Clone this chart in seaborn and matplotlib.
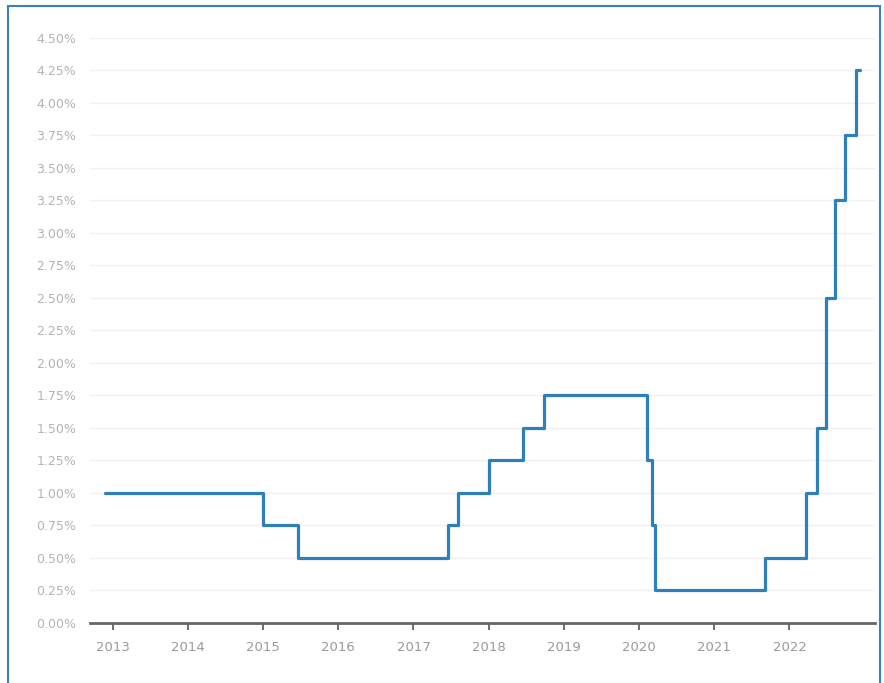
import matplotlib
matplotlib.use("Agg")
import matplotlib.pyplot as plt
import matplotlib.patches as mpatches
import seaborn as sns
import pandas as pd

# policy rate steps (decimal year of change, rate in %)
change_years = [2012.90, 2015.00, 2015.47, 2017.46, 2017.59, 2018.00, 2018.46,
                2018.74, 2020.11, 2020.17, 2020.21, 2021.67, 2022.22, 2022.37,
                2022.49, 2022.61, 2022.745, 2022.89, 2022.94]
rates = [1.00, 0.75, 0.50, 0.75, 1.00, 1.25, 1.50,
         1.75, 1.25, 0.75, 0.25, 0.50, 1.00, 1.50,
         2.50, 3.25, 3.75, 4.25, 4.25]

year_ticks = list(range(2013, 2023))
year_labels = [str(y) for y in year_ticks]
rate_ticks = [i * 0.25 for i in range(19)]
rate_labels = [f"{r:.2f}%" for r in rate_ticks]

df = pd.DataFrame({"annee": change_years, "taux": rates})

sns.set_theme(style="white")
plt.rcParams['font.family'] = ['DejaVu Sans']

fig = plt.figure(figsize=(8.84, 6.83), dpi=100)
ax = fig.add_axes([0.102, 0.0883, 0.888, 0.8565])

sns.lineplot(data=df, x="annee", y="taux", drawstyle="steps-post",
             color="#2d80bc", linewidth=2.3, ax=ax, sort=False,
             estimator=None)

ax.set_xlim(2012.70, 2023.14)
ax.set_ylim(0, 4.5)
ax.set_xticks(year_ticks)
ax.set_xticklabels(year_labels)
ax.set_yticks(rate_ticks)
ax.set_yticklabels(rate_labels)
ax.set_xlabel("")
ax.set_ylabel("")

ax.grid(axis="y", color="#f0f0f0", linewidth=1.0)
ax.set_axisbelow(True)
for s in ["top", "right", "left"]:
    ax.spines[s].set_visible(False)
ax.spines["bottom"].set_color("#666666")
ax.spines["bottom"].set_linewidth(2.0)

ax.tick_params(axis="x", length=5, width=1.2, color="#555555", direction="out",
               labelsize=9.5, labelcolor="#9a9a9a", pad=8, bottom=True)
ax.tick_params(axis="y", length=0, labelsize=9, labelcolor="#b4b4b4", pad=10)

# blue frame around the picture
frame = mpatches.Rectangle((8 / 884, -0.01), 872 / 884, 1 - 6 / 683 + 0.01,
                           transform=fig.transFigure, fill=False,
                           edgecolor="#3a7fc4", linewidth=1.5)
fig.patches.append(frame)

fig.savefig("out.png", dpi=100)
